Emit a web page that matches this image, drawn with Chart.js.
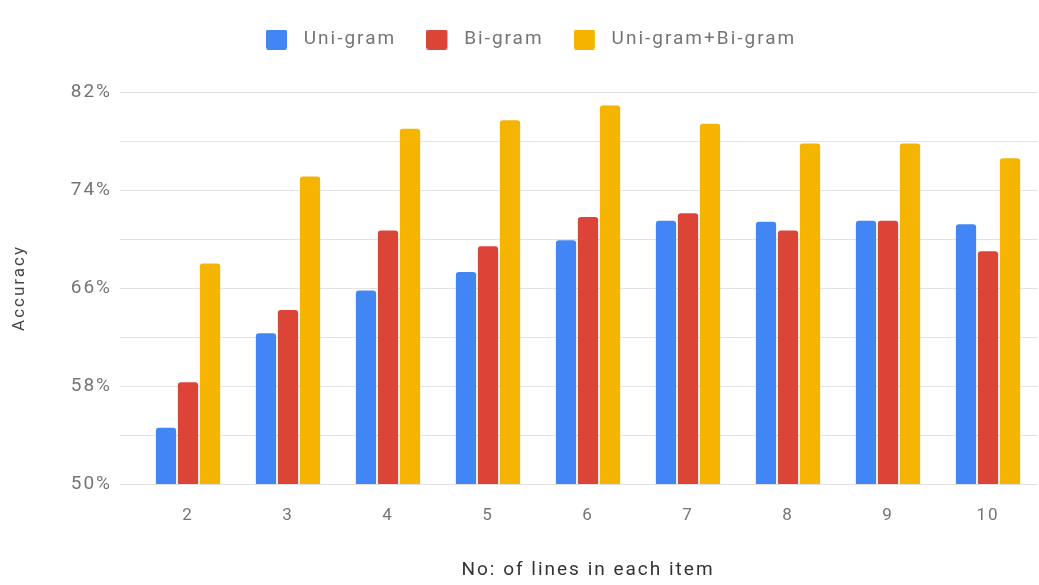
<!DOCTYPE html>
<html>
<head>
<meta charset="utf-8">
<script src="https://cdn.jsdelivr.net/npm/chart.js@4/dist/chart.umd.min.js"></script>
<style>
  html, body { margin: 0; padding: 0; background: #ffffff; }
  #wrap { width: 1039px; height: 585px; }
</style>
</head>
<body>
<div id="wrap"><canvas id="chart" width="1039" height="585"></canvas></div>
<script>
// Number of lines per item (x categories)
const categories = ['2', '3', '4', '5', '6', '7', '8', '9', '10'];

// Accuracy (%) for each feature set
const uniGram   = [54.6, 62.3, 65.8, 67.3, 69.9, 71.5, 71.4, 71.5, 71.2];
const biGram    = [58.3, 64.2, 70.7, 69.4, 71.8, 72.1, 70.7, 71.5, 69.0];
const uniBiGram = [68.0, 75.1, 79.0, 79.7, 80.9, 79.4, 77.8, 77.8, 76.6];

const seriesNames = ['Uni-gram', 'Bi-gram', 'Uni-gram+Bi-gram'];
const seriesColors = ['#4285f4', '#db4437', '#f4b400'];

// Y axis: 50%..82%, gridline every 4%, labels every 8%
const yMin = 50, yMax = 82, yStep = 4, yLabelStep = 8;

const FONT = 'Roboto, "Noto Sans", Arial, sans-serif';
const GRID = '#e3e3e3';
const LETTER_SPACING = '2px';

// Legend marker: a small rounded square with empty room to its right,
// so the label text sits a little further from the swatch.
const MARK_W = 28, MARK_H = 20, SWATCH = 21;
function makeMarker(color) {
  const c = document.createElement('canvas');
  c.width = MARK_W;
  c.height = MARK_H;
  const g = c.getContext('2d');
  g.fillStyle = color;
  g.beginPath();
  g.roundRect(0, 0, SWATCH, MARK_H, 2);
  g.fill();
  return c;
}
const markers = seriesColors.map(makeMarker);

// Adds extra room below the legend before the plot starts
const legendGap = {
  id: 'legendGap',
  beforeInit(chart) {
    const lg = chart.legend;
    if (!lg) return;
    const fit = lg.fit;
    lg.fit = function () {
      fit.call(this);
      this.height += 33;
    };
  }
};

// Slightly wider text tracking for every label
const tracking = {
  id: 'tracking',
  beforeUpdate(chart) { chart.ctx.letterSpacing = LETTER_SPACING; },
  beforeLayout(chart) { chart.ctx.letterSpacing = LETTER_SPACING; },
  beforeDraw(chart) { chart.ctx.letterSpacing = LETTER_SPACING; }
};

new Chart(document.getElementById('chart'), {
  type: 'bar',
  data: {
    labels: categories,
    datasets: [
      { label: seriesNames[0], data: uniGram,   backgroundColor: seriesColors[0] },
      { label: seriesNames[1], data: biGram,    backgroundColor: seriesColors[1] },
      { label: seriesNames[2], data: uniBiGram, backgroundColor: seriesColors[2] }
    ]
  },
  options: {
    responsive: false,
    animation: false,
    devicePixelRatio: 1,
    layout: { padding: { left: 24, right: 1, top: 0, bottom: 0 } },
    datasets: {
      bar: {
        categoryPercentage: 0.66,
        barPercentage: 0.92,
        borderRadius: 3,
        borderSkipped: 'bottom'
      }
    },
    plugins: {
      tooltip: { enabled: false },
      legend: {
        position: 'top',
        align: 'center',
        labels: {
          usePointStyle: true,
          pointStyleWidth: 28.5,
          boxHeight: 20,
          padding: 30,
          color: '#757575',
          font: { family: FONT, size: 19 },
          generateLabels(chart) {
            const items = Chart.defaults.plugins.legend.labels.generateLabels(chart);
            items.forEach((it, i) => { it.pointStyle = markers[i]; });
            return items;
          }
        }
      }
    },
    scales: {
      x: {
        grid: { display: false, drawTicks: false },
        border: { display: false },
        ticks: {
          color: '#757575',
          padding: 22,
          font: { family: FONT, size: 17 }
        },
        title: {
          display: true,
          text: 'No: of lines in each item',
          color: '#333333',
          padding: { top: 3, bottom: 3 },
          font: { family: FONT, size: 19 }
        },
        afterFit(scale) { scale.height = 101; }
      },
      y: {
        min: yMin,
        max: yMax,
        grid: {
          color: GRID,
          lineWidth: 1,
          drawTicks: true,
          tickLength: 18,
          tickColor: GRID
        },
        border: { display: false },
        ticks: {
          stepSize: yStep,
          color: '#757575',
          padding: 8,
          font: { family: FONT, size: 19 },
          callback: (v) => ((v - yMin) % yLabelStep === 0 ? v + '%' : '')
        },
        title: {
          display: true,
          text: 'Accuracy',
          color: '#444444',
          padding: { top: -14, bottom: 0 },
          font: { family: FONT, size: 17 }
        },
        afterFit(scale) { scale.width = 114; }
      }
    }
  },
  plugins: [legendGap, tracking]
});
</script>
</body>
</html>
